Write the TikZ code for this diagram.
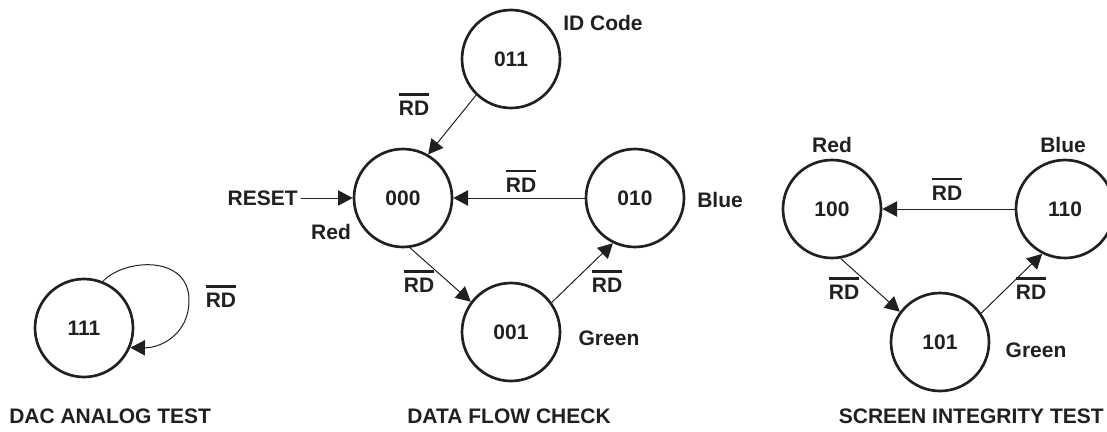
\documentclass[tikz,border=0pt]{standalone}
\usepackage{fontspec}
\setmainfont{Liberation Sans}
\usetikzlibrary{arrows.meta}
\definecolor{ink}{RGB}{35,31,32}
\newcommand\ovl[1]{\vbox{\hrule height 1.7pt\kern 4pt\hbox{#1}}}
\begin{document}
\begin{tikzpicture}[x=0.75pt,y=-0.75pt,
  every node/.style={font=\fontsize{15.75}{18}\selectfont\bfseries, text=ink, inner sep=0pt},
  state/.style={circle, draw=ink, line width=2pt, minimum size=73.5pt},
  arr/.style={draw=ink, line width=0.75pt, -{Triangle[length=11pt,width=11.5pt]}},
  lbl/.style={}
]
\useasboundingbox (0,0) rectangle (1107,432);

% states
\node[state] (s011) at (511,59) {011};
\node[state] (s000) at (403,198) {000};
\node[state] (s010) at (635,198) {010};
\node[state] (s001) at (511,332) {001};
\node[state] (s111) at (84,328) {111};
\node[state] (s100) at (832,209) {100};
\node[state] (s110) at (1065,209) {110};
\node[state] (s101) at (940,342) {101};

% state names
\node[lbl] (nid) at (603,23) {ID Code};
\node[lbl] (nred1) at (331,232) {Red};
\node[lbl] (nblue1) at (720,200) {Blue};
\node[lbl] (ngreen1) at (609,338) {Green};
\node[lbl] (nred2) at (832,145) {Red};
\node[lbl] (nblue2) at (1063,145) {Blue};
\node[lbl] (ngreen2) at (1036,350) {Green};
\node[lbl, anchor=east] (reset) at (298,198) {RESET};

% transition labels
\node[lbl] (rd1) at (414,104.5) {\ovl{RD}};
\node[lbl] (rd2) at (521,181) {\ovl{RD}};
\node[lbl] (rd3) at (419,281.5) {\ovl{RD}};
\node[lbl] (rd4) at (607,281.5) {\ovl{RD}};
\node[lbl] (rd5) at (221,296.5) {\ovl{RD}};
\node[lbl] (rd6) at (947,189) {\ovl{RD}};
\node[lbl] (rd7) at (844,288.5) {\ovl{RD}};
\node[lbl] (rd8) at (1031,288.5) {\ovl{RD}};

% titles
\node[lbl, anchor=west] (t1) at (9,416) {DAC ANALOG TEST};
\node[lbl] (t2) at (509,416) {DATA FLOW CHECK};
\node[lbl, anchor=east] (t3) at (1104,416) {SCREEN INTEGRITY TEST};

% transitions
\draw[arr] ([xshift=2.5pt]reset.east) -- (s000.west);
\draw[arr] (s011.226) -- (s000.60);
\draw[arr] (s010.west) -- (s000.east);
\draw[arr] (s000.-82) -- (s001.143);
\draw[arr] (s001.36) -- (s010.-116);
\draw[arr] (s110.west) -- (s100.east);
\draw[arr] (s100.-80) -- (s101.143);
\draw[arr] (s101.35) -- (s110.-117);
\draw[arr] (s111.68) .. controls (125,258) and (189,255) .. (189,300)
  .. controls (189,335) and (160,348) .. (s111.-23);
\end{tikzpicture}
\end{document}
